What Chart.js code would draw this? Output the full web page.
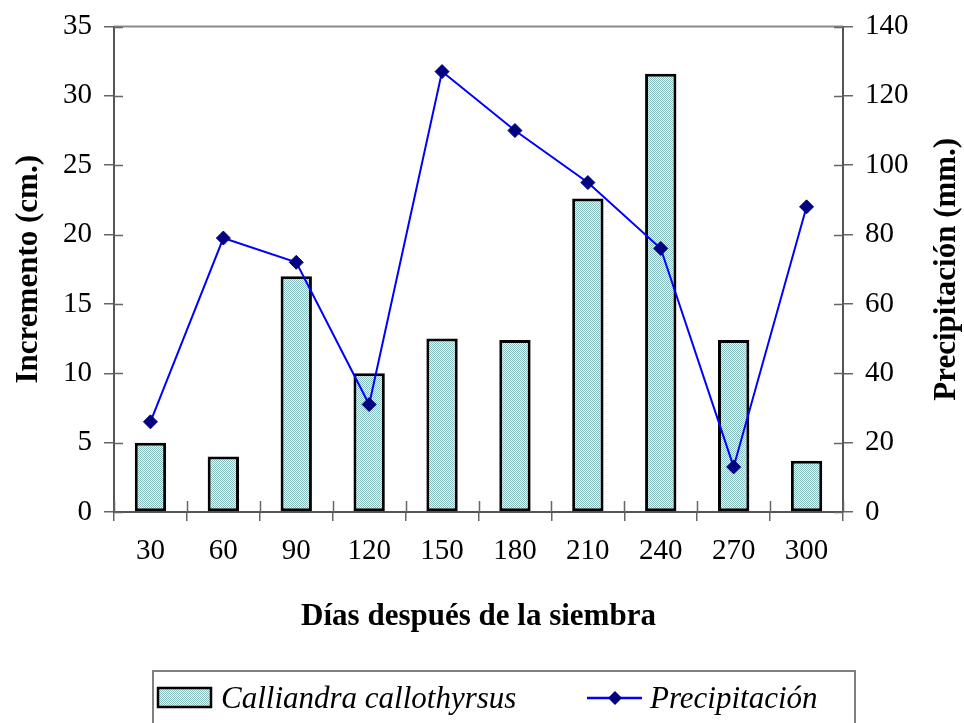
<!DOCTYPE html>
<html>
<head>
<meta charset="utf-8">
<script src="https://cdn.jsdelivr.net/npm/chart.js@4"></script>
<style>
  html, body { margin: 0; padding: 0; background: #fff; }
  #wrap { width: 964px; height: 723px; position: relative; }
</style>
</head>
<body>
<div id="wrap"><canvas id="c" width="964" height="723"></canvas></div>
<script>
// Días después de la siembra
const dias = ['30', '60', '90', '120', '150', '180', '210', '240', '270', '300'];
// Incremento en altura (cm.)
const incremento = [5.0, 4.0, 17.0, 10.0, 12.5, 12.4, 22.6, 31.6, 12.4, 3.7];
// Precipitación (mm.)
const precipitacion = [26, 79, 72, 31, 127, 110, 95, 76, 13, 88];

const ejeIzq = { max: 35, paso: 5 };
const ejeDer = { max: 140, paso: 20 };
const tituloDer = 'Precipitación (mm.)';

const serif = '"Liberation Serif", "Times New Roman", serif';

// fine dotted teal fill for the bars
function dottedFill() {
  const p = document.createElement('canvas');
  p.width = 2; p.height = 2;
  const g = p.getContext('2d');
  g.fillStyle = '#eef7f7'; g.fillRect(0, 0, 2, 2);
  g.fillStyle = '#86bcbc';
  g.fillRect(0, 0, 1, 1); g.fillRect(1, 1, 1, 1);
  return g.createPattern(p, 'repeat');
}
const fill = dottedFill();

// tick marks crossing the axis lines, top frame line and right-hand title
const axisExtras = {
  id: 'axisExtras',
  afterDraw(chart) {
    const ctx = chart.ctx;
    const a = chart.chartArea;
    const x = chart.scales.x, yl = chart.scales.y, yr = chart.scales.y1;
    ctx.save();
    // top frame line
    ctx.strokeStyle = '#8a8a8a';
    ctx.lineWidth = 2;
    ctx.beginPath();
    ctx.moveTo(a.left, a.top); ctx.lineTo(a.right, a.top);
    ctx.stroke();

    ctx.strokeStyle = '#666';
    ctx.lineWidth = 1.5;
    ctx.beginPath();
    for (let i = 0; i <= dias.length; i++) {
      const px = Math.round(x.getPixelForValue(i - 0.5)) + 0.5;
      ctx.moveTo(px, x.top); ctx.lineTo(px, x.top - 11);
    }
    for (let v = 0; v <= ejeIzq.max; v += ejeIzq.paso) {
      const py = Math.round(yl.getPixelForValue(v)) + 0.5;
      ctx.moveTo(yl.right, py); ctx.lineTo(yl.right + 9, py);
    }
    for (let v = 0; v <= ejeDer.max; v += ejeDer.paso) {
      const py = Math.round(yr.getPixelForValue(v)) + 0.5;
      ctx.moveTo(yr.left, py); ctx.lineTo(yr.left - 9, py);
    }
    ctx.stroke();

    // right axis title, read bottom to top
    ctx.translate(947, (a.top + a.bottom) / 2);
    ctx.rotate(-Math.PI / 2);
    ctx.fillStyle = '#000';
    ctx.font = 'bold 31px ' + serif;
    ctx.textAlign = 'center';
    ctx.textBaseline = 'middle';
    ctx.fillText(tituloDer, 0, 0);
    ctx.restore();
  }
};

// boxed legend under the axis title
const boxLegend = {
  id: 'boxLegend',
  afterDraw(chart) {
    const ctx = chart.ctx;
    const bar = chart.data.datasets[1], line = chart.data.datasets[0];
    ctx.save();
    ctx.strokeStyle = '#808080';
    ctx.lineWidth = 2;
    ctx.strokeRect(153, 671, 702, 70);

    // bar swatch
    ctx.fillStyle = bar.backgroundColor;
    ctx.fillRect(158, 688, 53, 19);
    ctx.strokeStyle = '#000';
    ctx.lineWidth = 2.5;
    ctx.strokeRect(158, 688, 53, 19);

    ctx.fillStyle = '#000';
    ctx.font = 'italic 31px ' + serif;
    ctx.textBaseline = 'alphabetic';
    ctx.fillText(bar.label, 221, 708);

    // line swatch
    ctx.strokeStyle = line.borderColor;
    ctx.lineWidth = 2.5;
    ctx.beginPath();
    ctx.moveTo(587, 698); ctx.lineTo(642, 698);
    ctx.stroke();
    ctx.fillStyle = line.pointBackgroundColor;
    ctx.beginPath();
    ctx.moveTo(615, 691); ctx.lineTo(622, 698); ctx.lineTo(615, 705); ctx.lineTo(608, 698);
    ctx.closePath();
    ctx.fill();

    ctx.fillStyle = '#000';
    ctx.fillText(line.label, 650, 708);
    ctx.restore();
  }
};

const tickFont = { family: serif, size: 29, lineHeight: 1 };

new Chart(document.getElementById('c'), {
  data: {
    labels: dias,
    datasets: [
      {
        type: 'line',
        label: 'Precipitación',
        data: precipitacion,
        yAxisID: 'y1',
        borderColor: '#0000ff',
        borderWidth: 2,
        pointStyle: 'rectRot',
        pointRadius: 7,
        pointBackgroundColor: '#000080',
        pointBorderColor: '#000080',
        pointBorderWidth: 1,
        tension: 0,
        order: 0
      },
      {
        type: 'bar',
        label: 'Calliandra callothyrsus',
        data: incremento,
        yAxisID: 'y',
        backgroundColor: fill,
        borderColor: '#000',
        borderWidth: 3,
        borderSkipped: false,
        categoryPercentage: 1,
        barPercentage: 0.43,
        order: 1
      }
    ]
  },
  options: {
    responsive: false,
    animation: false,
    devicePixelRatio: 1,
    layout: { padding: { top: 25, bottom: 83, left: 0, right: 0 } },
    plugins: { legend: { display: false }, tooltip: { enabled: false } },
    scales: {
      x: {
        grid: { display: true, drawOnChartArea: false, drawTicks: true, tickLength: 9, color: '#666', lineWidth: 1.5, offset: true },
        border: { display: true, color: '#555', width: 2 },
        ticks: { color: '#000', font: { family: serif, size: 29 }, padding: 13, maxRotation: 0 },
        title: { display: true, text: 'Días después de la siembra', color: '#000', font: { family: serif, size: 31, weight: 'bold' }, padding: { top: 14 } },
        afterFit(s) { s.height = 128; }
      },
      y: {
        position: 'left',
        min: 0, max: ejeIzq.max,
        ticks: { stepSize: ejeIzq.paso, color: '#000', font: tickFont, padding: 12 },
        grid: { display: true, drawOnChartArea: false, drawTicks: true, tickLength: 10, color: '#666', lineWidth: 1.5 },
        border: { display: true, color: '#555', width: 2 },
        title: { display: true, text: 'Incremento (cm.)', color: '#000', font: { family: serif, size: 31, weight: 'bold' }, padding: { top: 10 } },
        afterFit(s) { s.width = 114; }
      },
      y1: {
        position: 'right',
        min: 0, max: ejeDer.max,
        ticks: { stepSize: ejeDer.paso, color: '#000', font: tickFont, padding: 12 },
        grid: { display: true, drawOnChartArea: false, drawTicks: true, tickLength: 10, color: '#666', lineWidth: 1.5 },
        border: { display: true, color: '#555', width: 2 },
        title: { display: false },
        afterFit(s) { s.width = 121; }
      }
    }
  },
  plugins: [axisExtras, boxLegend]
});
</script>
</body>
</html>
